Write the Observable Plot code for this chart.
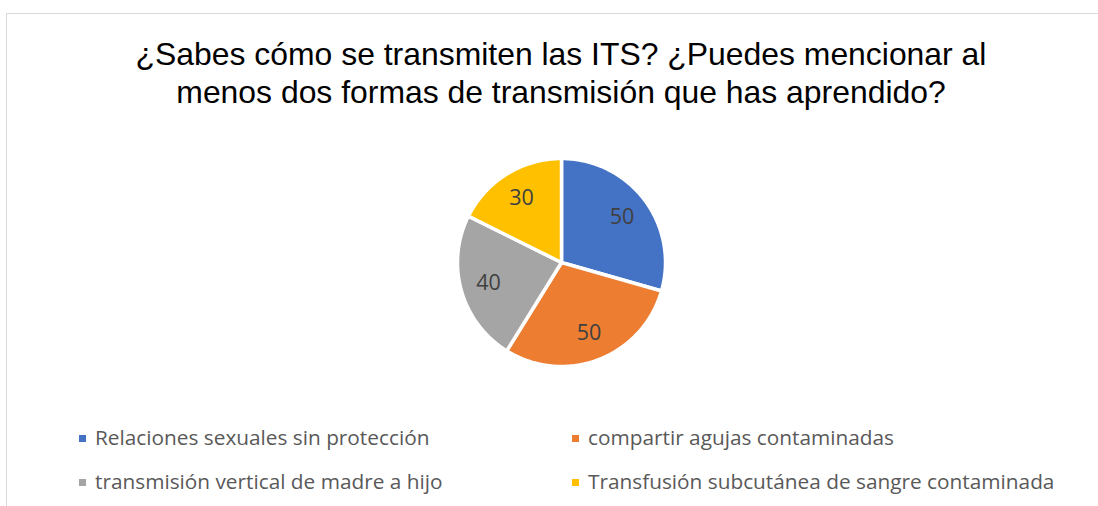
<!DOCTYPE html>
<html>
<head>
<meta charset="utf-8">
<script src="https://cdn.jsdelivr.net/npm/d3@7"></script>
<script src="https://cdn.jsdelivr.net/npm/@observablehq/plot@0.6"></script>
<style>
  html, body { margin: 0; padding: 0; background: #fff; }
  #page { position: relative; width: 1098px; height: 506px; overflow: hidden; background: #fff; }
  #frame { position: absolute; left: 6px; top: 13px; width: 1200px; height: 600px; border: 1px solid #d9d9d9; box-sizing: border-box; }
  #title { position: absolute; left: 0; width: 1122px; top: 35px; text-align: center;
           font-family: "Liberation Sans", Arial, sans-serif; font-size: 31.9px; line-height: 38px; color: #000; }
  #chart { position: absolute; left: 0; top: 130px; }
  .leg { position: absolute; font-family: "Open Sans", sans-serif; font-size: 20.8px; color: #595959; white-space: nowrap; line-height: 22px; }
  .leg .sw { display: inline-block; width: 7px; height: 7px; margin-right: 9px; vertical-align: middle; position: relative; top: -1px; }
</style>
</head>
<body>
<div id="page">
  <div id="frame"></div>
  <div id="title">¿Sabes cómo se transmiten las ITS? ¿Puedes mencionar al<br>menos dos formas de transmisión que has aprendido?</div>
  <div id="chart"></div>
  <div id="legend"></div>
</div>
<script>
const categories = [
  "Relaciones sexuales sin protección",
  "compartir agujas contaminadas",
  "transmisión vertical de madre a hijo",
  "Transfusión subcutánea de sangre contaminada"
];
const values = [50, 50, 40, 30];
const colors = ["#4472C4", "#ED7D31", "#A5A5A5", "#FFC000"];

const data = categories.map((c, i) => ({cat: c, value: values[i]}));
const arcs = d3.pie().sort(null).value(d => d.value)(data);

// polygon outline of each slice (unit circle, angle clockwise from 12 o'clock)
const pts = [];
for (const a of arcs) {
  pts.push({cat: a.data.cat, x: 0, y: 0});
  const n = Math.max(2, Math.ceil((a.endAngle - a.startAngle) / (Math.PI / 180)));
  for (let k = 0; k <= n; k++) {
    const t = a.startAngle + (a.endAngle - a.startAngle) * k / n;
    pts.push({cat: a.data.cat, x: Math.sin(t), y: Math.cos(t)});
  }
}
const labels = arcs.map(a => {
  const m = (a.startAngle + a.endAngle) / 2;
  return {x: 0.73 * Math.sin(m), y: 0.73 * Math.cos(m), text: String(a.data.value)};
});

const R = 104, cx = 561, cy = 132, W = 1098, H = 270;
const chart = Plot.plot({
  width: W,
  height: H,
  marginLeft: cx - R,
  marginRight: W - (cx + R),
  marginTop: cy - R,
  marginBottom: H - (cy + R),
  x: {domain: [-1, 1], axis: null},
  y: {domain: [-1, 1], axis: null},
  color: {domain: categories, range: colors},
  style: {background: "transparent", overflow: "visible"},
  marks: [
    Plot.line(pts, {x: "x", y: "y", z: "cat", fill: "cat", stroke: "white", strokeWidth: 3.5,
                    strokeLinejoin: "round", curve: "linear-closed"}),
    Plot.text(labels, {x: "x", y: "y", text: "text", fill: "#404040", fontSize: 21.5,
                       fontFamily: "Open Sans, sans-serif"})
  ]
});
document.getElementById("chart").appendChild(chart);

// legend (2 columns x 2 rows)
const legPos = [[79, 426], [572, 426], [79, 470], [572, 470]];
const leg = document.getElementById("legend");
categories.forEach((c, i) => {
  const d = document.createElement("div");
  d.className = "leg";
  d.style.left = legPos[i][0] + "px";
  d.style.top = legPos[i][1] + "px";
  d.innerHTML = `<span class="sw" style="background:${colors[i]}"></span>${c}`;
  leg.appendChild(d);
});
</script>
</body>
</html>
